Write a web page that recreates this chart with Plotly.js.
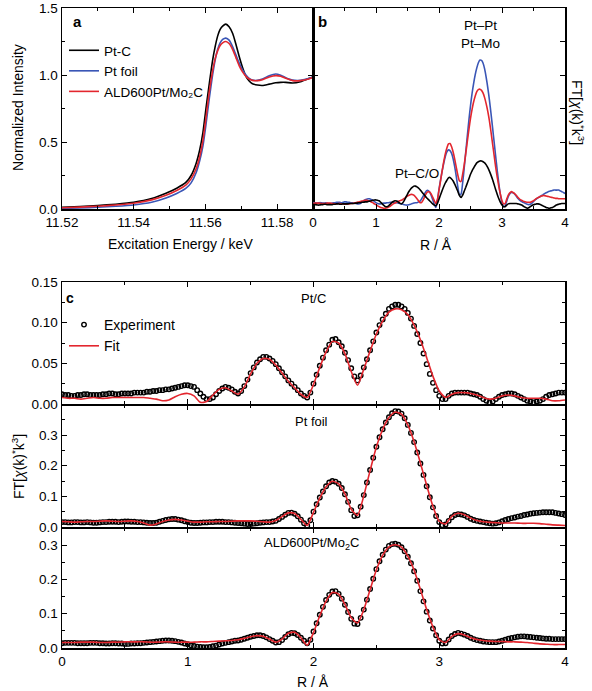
<!DOCTYPE html>
<html><head><meta charset="utf-8">
<script src="https://cdn.plot.ly/plotly-3.0.1.min.js"></script>
<style>html,body{margin:0;padding:0;background:#fff}#chart{width:592px;height:691px}</style>
</head><body><div id="chart"></div>
<script>
// ---- Panel a: XANES ----
const energy = [11.520,11.525,11.530,11.535,11.540,11.545,11.549,11.552,11.5546,11.5560,11.5574,11.5584,11.5593,11.5602,11.5611,11.5620,11.5627,11.5634,11.5641,11.5648,11.5657,11.5666,11.5676,11.5685,11.5694,11.5703,11.5713,11.5722,11.5731,11.5745,11.5759,11.5778,11.5796,11.5810,11.5824,11.5843,11.5865,11.5890,11.5900];
const xanesPtC = [0.012,0.018,0.026,0.036,0.050,0.078,0.118,0.155,0.20,0.25,0.34,0.44,0.57,0.76,0.94,1.11,1.21,1.29,1.34,1.365,1.38,1.36,1.31,1.23,1.14,1.06,0.99,0.955,0.935,0.925,0.922,0.932,0.942,0.945,0.945,0.94,0.95,0.975,0.985];
const xanesPtFoil = [0.004,0.008,0.013,0.020,0.030,0.050,0.082,0.115,0.155,0.195,0.27,0.36,0.47,0.64,0.83,1.00,1.11,1.19,1.24,1.265,1.275,1.26,1.21,1.15,1.09,1.04,1.00,0.975,0.962,0.96,0.97,0.995,1.008,0.998,0.98,0.962,0.96,0.975,0.985];
const xanesALD = [0.009,0.014,0.021,0.030,0.043,0.068,0.102,0.138,0.18,0.225,0.30,0.39,0.51,0.69,0.88,1.03,1.12,1.18,1.22,1.24,1.25,1.235,1.19,1.13,1.07,1.025,0.99,0.97,0.96,0.958,0.965,0.985,0.995,0.99,0.975,0.958,0.958,0.972,0.982];

// ---- Panels b & c: FT-EXAFS, experiment (dense grid) ----
const Rexp = [
 0.000,0.025,0.050,0.075,0.100,0.125,0.150,0.175,0.200,0.225,
 0.250,0.275,0.300,0.325,0.350,0.375,0.400,0.425,0.450,0.475,
 0.500,0.525,0.550,0.575,0.600,0.625,0.650,0.675,0.700,0.725,
 0.750,0.775,0.800,0.825,0.850,0.875,0.900,0.925,0.950,0.975,
 1.000,1.025,1.050,1.075,1.100,1.125,1.150,1.175,1.200,1.225,
 1.250,1.275,1.300,1.325,1.350,1.375,1.400,1.425,1.450,1.475,
 1.500,1.525,1.550,1.575,1.600,1.625,1.650,1.675,1.700,1.725,
 1.750,1.775,1.800,1.825,1.850,1.875,1.900,1.925,1.950,1.975,
 2.000,2.025,2.050,2.075,2.100,2.125,2.150,2.175,2.200,2.225,
 2.250,2.275,2.300,2.325,2.350,2.375,2.400,2.425,2.450,2.475,
 2.500,2.525,2.550,2.575,2.600,2.625,2.650,2.675,2.700,2.725,
 2.750,2.775,2.800,2.825,2.850,2.875,2.900,2.925,2.950,2.975,
 3.000,3.025,3.050,3.075,3.100,3.125,3.150,3.175,3.200,3.225,
 3.250,3.275,3.300,3.325,3.350,3.375,3.400,3.425,3.450,3.475,
 3.500,3.525,3.550,3.575,3.600,3.625,3.650,3.675,3.700,3.725,
 3.750,3.775,3.800,3.825,3.850,3.875,3.900,3.925,3.950,3.975,
 4.000];
const expPtC = [
 0.012,0.011,0.011,0.010,0.010,0.011,0.011,0.012,0.012,0.011,
 0.011,0.011,0.011,0.012,0.012,0.013,0.013,0.012,0.012,0.013,
 0.013,0.013,0.013,0.014,0.014,0.014,0.014,0.015,0.015,0.016,
 0.016,0.017,0.017,0.018,0.018,0.019,0.020,0.021,0.022,0.023,
 0.023,0.022,0.021,0.017,0.013,0.009,0.006,0.006,0.008,0.012,
 0.016,0.019,0.021,0.020,0.018,0.015,0.013,0.016,0.022,0.030,
 0.038,0.045,0.051,0.055,0.058,0.058,0.056,0.053,0.049,0.044,
 0.039,0.034,0.029,0.025,0.021,0.017,0.013,0.010,0.008,0.014,
 0.025,0.036,0.047,0.057,0.066,0.073,0.079,0.080,0.076,0.071,
 0.063,0.054,0.044,0.034,0.029,0.035,0.045,0.055,0.066,0.077,
 0.088,0.097,0.104,0.111,0.117,0.120,0.122,0.122,0.120,0.117,
 0.112,0.105,0.096,0.086,0.075,0.062,0.049,0.037,0.026,0.017,
 0.010,0.006,0.006,0.010,0.013,0.014,0.014,0.014,0.014,0.014,
 0.013,0.012,0.011,0.009,0.006,0.004,0.002,0.003,0.006,0.009,
 0.011,0.012,0.013,0.013,0.012,0.010,0.008,0.006,0.004,0.003,
 0.002,0.003,0.004,0.006,0.009,0.011,0.012,0.013,0.014,0.014,
 0.014];
const expFoil = [
 0.016,0.016,0.015,0.015,0.016,0.016,0.015,0.015,0.016,0.015,
 0.014,0.014,0.015,0.016,0.016,0.017,0.017,0.017,0.016,0.017,
 0.018,0.018,0.017,0.017,0.016,0.016,0.015,0.014,0.013,0.013,
 0.014,0.017,0.020,0.023,0.025,0.026,0.026,0.024,0.022,0.019,
 0.016,0.014,0.013,0.013,0.014,0.015,0.015,0.016,0.016,0.017,
 0.017,0.017,0.016,0.016,0.015,0.014,0.013,0.012,0.011,0.010,
 0.010,0.011,0.012,0.014,0.015,0.016,0.016,0.018,0.020,0.026,
 0.033,0.040,0.046,0.047,0.043,0.035,0.024,0.012,0.004,0.022,
 0.050,0.074,0.096,0.116,0.133,0.145,0.150,0.148,0.141,0.127,
 0.107,0.082,0.055,0.036,0.038,0.066,0.104,0.145,0.186,0.226,
 0.262,0.293,0.319,0.341,0.358,0.371,0.378,0.377,0.370,0.355,
 0.333,0.307,0.277,0.243,0.207,0.170,0.133,0.097,0.064,0.036,
 0.016,0.006,0.008,0.020,0.032,0.039,0.042,0.041,0.038,0.033,
 0.027,0.023,0.020,0.018,0.016,0.014,0.012,0.011,0.012,0.015,
 0.019,0.023,0.026,0.029,0.031,0.034,0.036,0.039,0.041,0.043,
 0.045,0.046,0.047,0.048,0.048,0.048,0.048,0.046,0.044,0.042,
 0.039];
const expALD = [
 0.014,0.015,0.015,0.015,0.015,0.014,0.014,0.014,0.014,0.015,
 0.015,0.015,0.014,0.014,0.013,0.013,0.014,0.014,0.013,0.013,
 0.012,0.012,0.013,0.013,0.014,0.014,0.015,0.016,0.017,0.018,
 0.019,0.020,0.021,0.022,0.022,0.021,0.020,0.018,0.016,0.013,
 0.011,0.008,0.006,0.004,0.003,0.002,0.002,0.003,0.005,0.007,
 0.010,0.013,0.015,0.017,0.019,0.021,0.022,0.024,0.027,0.030,
 0.033,0.035,0.037,0.037,0.035,0.031,0.026,0.021,0.016,0.017,
 0.023,0.032,0.040,0.044,0.043,0.038,0.030,0.021,0.014,0.024,
 0.048,0.072,0.097,0.120,0.140,0.155,0.165,0.166,0.158,0.144,
 0.126,0.105,0.085,0.071,0.070,0.088,0.112,0.141,0.172,0.202,
 0.230,0.253,0.272,0.287,0.298,0.303,0.304,0.301,0.294,0.282,
 0.266,0.247,0.224,0.196,0.166,0.136,0.106,0.080,0.057,0.037,
 0.021,0.013,0.014,0.025,0.035,0.041,0.044,0.042,0.039,0.035,
 0.030,0.026,0.023,0.021,0.019,0.018,0.017,0.017,0.017,0.019,
 0.021,0.024,0.027,0.029,0.031,0.033,0.034,0.034,0.033,0.032,
 0.031,0.030,0.029,0.028,0.027,0.027,0.026,0.026,0.026,0.026,
 0.026];

// ---- Fits (coarser grid) ----
const Rfit = [0.00,0.05,0.10,0.15,0.20,0.25,0.30,0.35,0.40,0.45,0.50,0.55,0.60,0.65,0.70,0.75,0.80,0.85,0.90,0.95,1.00,1.05,1.10,1.15,1.20,1.25,1.30,1.35,1.40,1.45,1.50,1.55,1.60,1.65,1.70,1.75,1.80,1.85,1.90,1.95,2.00,2.05,2.10,2.15,2.20,2.25,2.30,2.35,2.40,2.45,2.50,2.55,2.60,2.65,2.70,2.75,2.80,2.85,2.90,2.95,3.00,3.05,3.10,3.15,3.20,3.25,3.30,3.35,3.40,3.45,3.50,3.55,3.60,3.65,3.70,3.75,3.80,3.85,3.90,3.95,4.00];
const fitPtC = [0.008,0.007,0.007,0.006,0.007,0.008,0.007,0.007,0.008,0.008,0.008,0.008,0.008,0.008,0.007,0.006,0.004,0.005,0.009,0.012,0.013,0.010,0.002,0.003,0.011,0.018,0.020,0.016,0.012,0.021,0.037,0.050,0.056,0.055,0.048,0.038,0.028,0.020,0.012,0.008,0.024,0.045,0.064,0.077,0.075,0.062,0.040,0.023,0.043,0.065,0.086,0.102,0.113,0.117,0.116,0.110,0.097,0.079,0.057,0.034,0.016,0.008,0.012,0.014,0.014,0.013,0.011,0.008,0.006,0.007,0.010,0.011,0.010,0.008,0.007,0.007,0.007,0.006,0.004,0.004,0.005];
const fitFoil = [0.018,0.017,0.016,0.017,0.018,0.018,0.019,0.020,0.019,0.018,0.019,0.020,0.018,0.013,0.006,0.010,0.018,0.023,0.025,0.023,0.019,0.016,0.016,0.017,0.017,0.018,0.018,0.019,0.020,0.020,0.020,0.019,0.017,0.016,0.021,0.034,0.046,0.044,0.025,0.005,0.048,0.094,0.131,0.149,0.141,0.108,0.058,0.038,0.102,0.184,0.261,0.318,0.357,0.375,0.368,0.333,0.278,0.209,0.136,0.067,0.018,0.010,0.035,0.045,0.040,0.029,0.021,0.017,0.015,0.014,0.013,0.013,0.013,0.012,0.012,0.012,0.011,0.009,0.007,0.006,0.005];
const fitALD = [0.016,0.016,0.016,0.017,0.017,0.017,0.016,0.016,0.017,0.017,0.018,0.018,0.018,0.018,0.017,0.017,0.018,0.018,0.017,0.017,0.017,0.017,0.018,0.018,0.019,0.020,0.021,0.022,0.024,0.028,0.033,0.036,0.034,0.026,0.017,0.026,0.043,0.046,0.030,0.008,0.045,0.094,0.137,0.162,0.157,0.127,0.088,0.073,0.112,0.170,0.228,0.270,0.295,0.301,0.294,0.268,0.227,0.171,0.112,0.061,0.024,0.016,0.034,0.042,0.038,0.030,0.025,0.022,0.020,0.019,0.019,0.018,0.018,0.017,0.016,0.014,0.012,0.011,0.010,0.010,0.010];

const W = 592, H = 691;
const fx = p => p / W, fy = p => 1 - p / H;
const FONT = 'Liberation Sans, Arial, Helvetica, sans-serif';
const BLACK = '#000000', BLUE = '#3a56b6', RED = '#e3262e';

function ax(o) {
  return Object.assign({
    showline: true, linewidth: 1.5, linecolor: BLACK, mirror: 'allticks',
    ticks: 'inside', ticklen: 5, tickwidth: 1, tickcolor: BLACK,
    showgrid: false, zeroline: false,
    tickfont: {size: 13.5, color: BLACK, family: FONT}
  }, o);
}
function minor(d) { return {dtick: d, ticks: 'inside', ticklen: 3, tickwidth: 1, tickcolor: BLACK, showgrid: false}; }

const line = (x, y, xa, ya, color, name, extra) => Object.assign({
  x: x, y: y, xaxis: xa, yaxis: ya, type: 'scatter', mode: 'lines', name: name,
  line: {color: color, width: 1.6, shape: 'spline', smoothing: 0.6}, hoverinfo: 'skip'
}, extra || {});

const expMarker = {symbol: 'circle-open', size: 4.5, color: BLACK, line: {width: 1.4, color: BLACK}};
const pts = (y, ya, show) => ({x: Rexp, y: y, xaxis: ya.replace('y', 'x'), yaxis: ya, type: 'scatter', mode: 'markers',
  name: 'Experiment', marker: expMarker, showlegend: show, legend: 'legend2', hoverinfo: 'skip'});

const data = [
  line(energy, xanesPtC, 'x', 'y', BLACK, 'Pt-C', {legend: 'legend'}),
  line(energy, xanesPtFoil, 'x', 'y', BLUE, 'Pt foil', {legend: 'legend'}),
  line(energy, xanesALD, 'x', 'y', RED, 'ALD600Pt/Mo₂C', {legend: 'legend'}),
  line(Rexp, expFoil, 'x2', 'y2', BLUE, 'b foil', {showlegend: false}),
  line(Rexp, expALD, 'x2', 'y2', RED, 'b ALD', {showlegend: false}),
  line(Rexp, expPtC, 'x2', 'y2', BLACK, 'b PtC', {showlegend: false}),
  pts(expPtC, 'y3', true),
  line(Rfit, fitPtC, 'x3', 'y3', RED, 'Fit', {legend: 'legend2'}),
  pts(expFoil, 'y4', false),
  line(Rfit, fitFoil, 'x4', 'y4', RED, 'Fit', {showlegend: false}),
  pts(expALD, 'y5', false),
  line(Rfit, fitALD, 'x5', 'y5', RED, 'Fit', {showlegend: false})
];

const ann = (text, x, y, o) => Object.assign({text: text, x: fx(x), y: fy(y), xref: 'paper', yref: 'paper',
  showarrow: false, xanchor: 'center', yanchor: 'middle', font: {size: 14, color: BLACK, family: FONT}}, o || {});

const layout = {
  width: W, height: H, margin: {l: 0, r: 0, t: 0, b: 0},
  paper_bgcolor: '#ffffff', plot_bgcolor: 'rgba(0,0,0,0)',
  font: {family: FONT, color: BLACK, size: 14},
  xaxis: ax({domain: [fx(62), fx(313)], range: [11.52, 11.59], tick0: 11.52, dtick: 0.02, tickformat: '.2f', minor: minor(0.01), anchor: 'y'}),
  yaxis: ax({domain: [fy(209), fy(8)], range: [0, 1.5], dtick: 0.5, tickformat: '.1f', minor: minor(0.25), anchor: 'x'}),
  xaxis2: ax({domain: [fx(313), fx(565)], range: [0, 4], dtick: 1, minor: minor(0.5), anchor: 'y2'}),
  yaxis2: ax({domain: [fy(209), fy(8)], range: [0, 0.51], dtick: 0.085, showticklabels: false, anchor: 'x2'}),
  xaxis3: ax({domain: [fx(62), fx(565)], range: [0, 4], dtick: 1, minor: minor(0.5), showticklabels: false, anchor: 'y3'}),
  yaxis3: ax({domain: [fy(404), fy(282)], range: [0, 0.15], dtick: 0.05, tickformat: '.2f', minor: minor(0.025), anchor: 'x3'}),
  xaxis4: ax({domain: [fx(62), fx(565)], range: [0, 4], dtick: 1, minor: minor(0.5), showticklabels: false, anchor: 'y4'}),
  yaxis4: ax({domain: [fy(527), fy(405)], range: [0, 0.398], dtick: 0.1, tickformat: '.1f', minor: minor(0.05), anchor: 'x4'}),
  xaxis5: ax({domain: [fx(62), fx(565)], range: [0, 4], dtick: 1, minor: minor(0.5), anchor: 'y5'}),
  yaxis5: ax({domain: [fy(648), fy(528)], range: [0, 0.35], dtick: 0.1, tickformat: '.1f', minor: minor(0.05), anchor: 'x5'}),
  legend: {x: fx(64), y: fy(35), xanchor: 'left', yanchor: 'top', bgcolor: 'rgba(0,0,0,0)', borderwidth: 0,
    font: {size: 13.5, color: BLACK, family: FONT}, tracegroupgap: 0},
  legend2: {x: fx(64), y: fy(309), xanchor: 'left', yanchor: 'top', bgcolor: 'rgba(0,0,0,0)', borderwidth: 0,
    font: {size: 14, color: BLACK, family: FONT}, tracegroupgap: 0},
  annotations: [
    ann('<b>a</b>', 78, 22, {font: {size: 15, color: BLACK, family: FONT}}),
    ann('<b>b</b>', 322, 22, {font: {size: 15, color: BLACK, family: FONT}}),
    ann('<b>c</b>', 70, 298, {font: {size: 14, color: BLACK, family: FONT}}),
    ann('Pt–Pt', 480, 25, {font: {size: 13.5, color: BLACK, family: FONT}}),
    ann('Pt–Mo', 480, 43, {font: {size: 13.5, color: BLACK, family: FONT}}),
    ann('Pt–C/O', 417, 174, {font: {size: 13.5, color: BLACK, family: FONT}}),
    ann('Pt/C', 313, 299, {font: {size: 13, color: BLACK, family: FONT}}),
    ann('Pt foil', 312, 421, {font: {size: 13, color: BLACK, family: FONT}}),
    ann('ALD600Pt/Mo<sub>2</sub>C', 312, 543, {font: {size: 13, color: BLACK, family: FONT}}),
    ann('Normalized Intensity', 18, 108, {textangle: -90}),
    ann('Excitation Energy / keV', 180, 244),
    ann('R / Å', 436, 245),
    ann('FT[<i>χ</i>(k)<sup>*</sup>k<sup>3</sup>]', 578, 112, {textangle: 90}),
    ann('FT[<i>χ</i>(k)<sup>*</sup>k<sup>3</sup>]', 18, 467, {textangle: -90}),
    ann('R / Å', 313, 682)
  ]
};

Plotly.newPlot('chart', data, layout, {staticPlot: true, displayModeBar: false});
</script>
</body></html>
